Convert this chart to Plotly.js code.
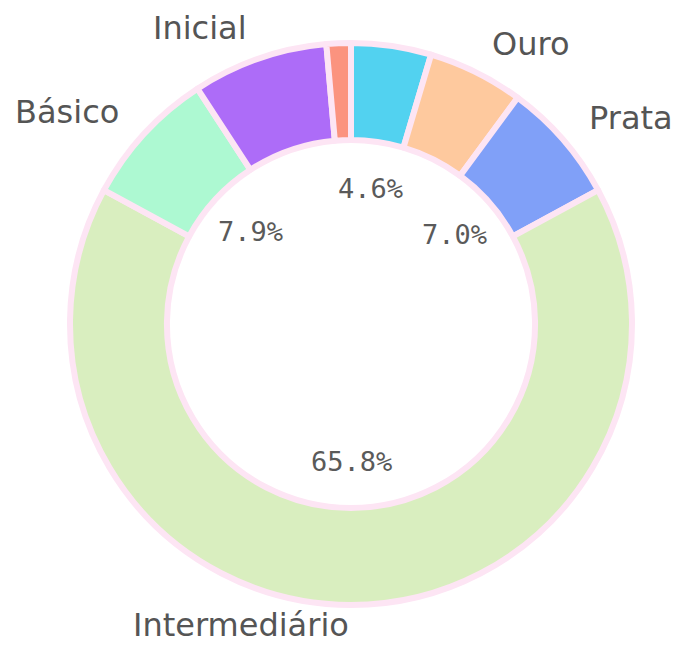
<!DOCTYPE html>
<html>
<head>
<meta charset="utf-8">
<script src="https://cdn.plot.ly/plotly-3.0.1.min.js"></script>
<style>
html,body{margin:0;padding:0;background:#ffffff;}
#chart{width:687px;height:645px;}
</style>
</head>
<body>
<div id="chart"></div>
<script>
// Data (clockwise from 12 o'clock)
const categories = ['Diamante', 'Ouro', 'Prata', 'Intermediário', 'Básico', 'Inicial', 'Bronze'];
const shares = [4.6, 5.5, 7.0, 65.8, 7.9, 7.8, 1.4];
const sliceColors = ['#52d2f0', '#fec99e', '#80a0f8', '#d9eebf', '#adf9d2', '#ad6cf8', '#fb937f'];
const showName = [false, true, true, true, true, true, false];
const showPercent = [true, false, true, true, true, false, false];

// Geometry
const W = 687, H = 645;
const CX = 351, CY = 324, R = 281;
const HOLE = 0.655;
const ROT = 0;

const total = shares.reduce((a, b) => a + b, 0);

const trace = {
  type: 'pie',
  labels: categories,
  values: shares,
  sort: false,
  direction: 'clockwise',
  rotation: ROT,
  hole: HOLE,
  textinfo: 'none',
  hoverinfo: 'label+percent',
  marker: {colors: sliceColors, line: {color: '#fde5f4', width: 6}},
  domain: {
    x: [(CX - R) / W, (CX + R) / W],
    y: [(H - CY - R) / H, (H - CY + R) / H]
  },
  showlegend: false
};

const annotations = [];
let cum = 0;
shares.forEach((v, i) => {
  const a0 = ROT + cum / total * 360;
  cum += v;
  const a1 = ROT + cum / total * 360;
  const mid = (a0 + a1) / 2 * Math.PI / 180;
  const s = Math.sin(mid), c = Math.cos(mid);
  if (showPercent[i]) {
    const rp = 137;
    annotations.push({
      xref: 'paper', yref: 'paper',
      x: (CX + rp * s) / W, y: (H - (CY - rp * c)) / H,
      xanchor: 'center', yanchor: 'middle',
      text: (v / total * 100).toFixed(1) + '%',
      showarrow: false,
      font: {family: 'DejaVu Sans Mono, monospace', size: 27, color: '#5a5a5a'}
    });
  }
  if (showName[i]) {
    const rn = c >= 0 ? 313 : 313 + 12 * c;
    annotations.push({
      xref: 'paper', yref: 'paper',
      x: (CX + rn * s) / W, y: (H - (CY - rn * c)) / H,
      xanchor: s > 1e-6 ? 'left' : 'right', yanchor: 'middle',
      text: categories[i],
      showarrow: false,
      font: {family: 'DejaVu Sans, sans-serif', size: 32, color: '#555555'}
    });
  }
});

const layout = {
  width: W, height: H,
  margin: {l: 0, r: 0, t: 0, b: 0},
  paper_bgcolor: '#ffffff',
  plot_bgcolor: '#ffffff',
  showlegend: false,
  annotations: annotations
};

Plotly.newPlot('chart', [trace], layout, {displayModeBar: false, staticPlot: true});
</script>
</body>
</html>
